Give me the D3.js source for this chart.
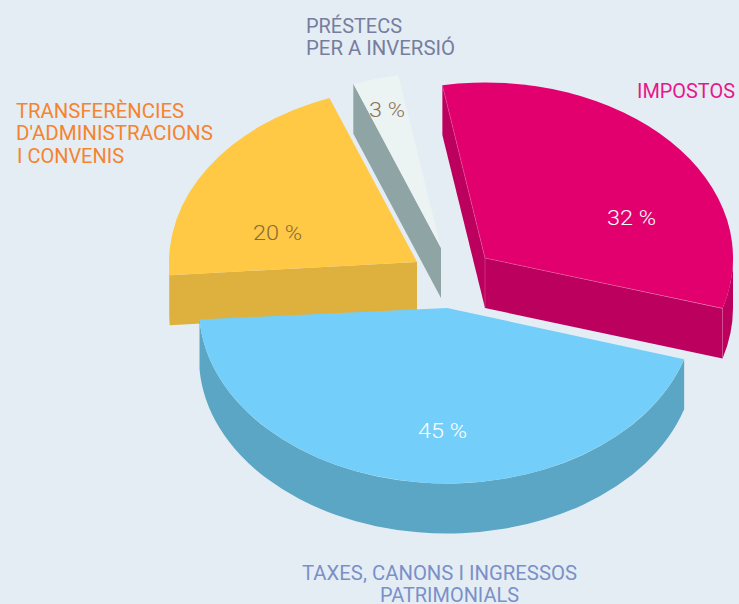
<!DOCTYPE html>
<html><head><meta charset="utf-8">
<script src="https://cdn.jsdelivr.net/npm/d3@7/dist/d3.min.js"></script>
<style>html,body{margin:0;padding:0;background:#e4edf4;overflow:hidden}svg{display:block}</style>
</head><body><svg id="c" width="739" height="604"></svg>
<script>
const categories = ["IMPOSTOS","TAXES, CANONS I INGRESSOS PATRIMONIALS","TRANSFERÈNCIES D'ADMINISTRACIONS I CONVENIS","PRÉSTECS PER A INVERSIÓ"];
const values = [32,45,20,3];
const topColors = ["#e2006f","#73cff9","#ffc845","#ebf3f3"];
const wallColors = ["#bb005d","#5ca6c5","#deb13e","#8fa5a5"];
const apexX = [485,447,417,441];
const apexY = [258,308,262,248];
// the drawing's perspective shifts some cut edges by a degree or so
const startNudge = [0,1.7,-1.6,0];
const endNudge = [1.4,-1.0,0,0];
const pctColors = ["#ffffff","#ffffff","#8a6c3a","#8f7459"];
const pctX = [607,418,253,369];
const pctY = [225,438,240,117];
const pctW = [49,49,49,36];
const labelLines = [
  [["IMPOSTOS",637,98,98]],
  [["TAXES, CANONS I INGRESSOS",302,580,275],["PATRIMONIALS",380,602,139]],
  [["TRANSFERÈNCIES",16,118,168],["D'ADMINISTRACIONS",16,140,197],["I CONVENIS",17,163,107]],
  [["PRÉSTECS",306,33,96],["PER A INVERSIÓ",306,55,149]]
];
const labelColors = ["#e8168a","#7b90c8","#f5832f","#777d9f"];
const rx=248, ry=175.5, depth=50, TAU=Math.PI*2, DEG=Math.PI/180;

const svg=d3.select("#c");
const pie=d3.pie().sort(null).value(d=>d).startAngle(-9.9*DEG).endAngle(TAU-9.9*DEG);
const slices=pie(values).map((s,i)=>({...s,startAngle:s.startAngle+startNudge[i]*DEG,endAngle:s.endAngle+endNudge[i]*DEG}));
const arc=d3.arc().innerRadius(0).outerRadius(1);
const ex=(i,a)=>apexX[i]+rx*Math.sin(a), ey=(i,a)=>apexY[i]-ry*Math.cos(a);
// paint back to front
[3,2,0,1].forEach(i=>{
  const s=slices[i], g=svg.append("g");
  const x0=apexX[i], y0=apexY[i], wall=wallColors[i];
  const a0=Math.max(s.startAngle,Math.PI/2), a1=Math.min(s.endAngle,Math.PI*1.5);
  if(a1>a0){
    const p=`M${ex(i,a0)},${ey(i,a0)}A${rx},${ry} 0 0 1 ${ex(i,a1)},${ey(i,a1)}L${ex(i,a1)},${ey(i,a1)+depth}A${rx},${ry} 0 0 0 ${ex(i,a0)},${ey(i,a0)+depth}Z`;
    g.append("path").attr("d",p).attr("fill",wall);
  }
  const face=a=>{
    const px=ex(i,a),py=ey(i,a);
    g.append("path").attr("d",`M${x0},${y0}L${px},${py}L${px},${py+depth}L${x0},${y0+depth}Z`).attr("fill",wall);
  };
  if(Math.sin(s.startAngle)<0) face(s.startAngle);
  if(Math.sin(s.endAngle)>0) face(s.endAngle);
  g.append("path").attr("d",arc(s))
    .attr("transform",`translate(${x0},${y0}) scale(${rx},${ry})`).attr("fill",topColors[i]);
  // pale seams on the magenta slice
  if(i===0){
    const seam="#ef6aa8";
    [[x0,y0,ex(i,s.startAngle),ey(i,s.startAngle)],[x0,y0,ex(i,s.endAngle),ey(i,s.endAngle)],
     [x0,y0,x0,y0+depth],[ex(i,s.endAngle),ey(i,s.endAngle),ex(i,s.endAngle),ey(i,s.endAngle)+depth]].forEach(l=>{
      g.append("line").attr("x1",l[0]).attr("y1",l[1]).attr("x2",l[2]).attr("y2",l[3])
        .attr("stroke",seam).attr("stroke-width",0.6).attr("stroke-opacity",0.7);
    });
  }
});
const font="Roboto, sans-serif";
values.forEach((v,i)=>{
  svg.append("text").attr("x",pctX[i]).attr("y",pctY[i])
    .attr("font-family",font).attr("font-weight",300).attr("font-size",20).attr("fill",pctColors[i])
    .attr("textLength",pctW[i]).attr("lengthAdjust","spacingAndGlyphs").text(v+" %");
});
labelLines.forEach((lines,i)=>lines.forEach(l=>{
  svg.append("text").attr("x",l[1]).attr("y",l[2]).attr("font-family",font).attr("font-weight",400)
    .attr("font-size",20).attr("fill",labelColors[i]).attr("textLength",l[3]).attr("lengthAdjust","spacingAndGlyphs").text(l[0]);
}));
</script></body></html>
